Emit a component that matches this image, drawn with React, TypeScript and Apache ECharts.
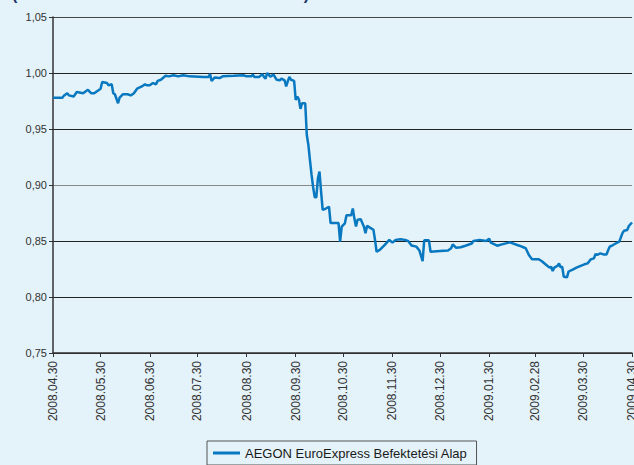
import React, { useEffect, useRef } from "react";
import * as echarts from "echarts";

const seriesName = "AEGON EuroExpress Befektetési Alap";
const startLabel = "2008.04.30";

const tickLabels = [
  "2008.04.30", "2008.05.30", "2008.06.30", "2008.07.30", "2008.08.30", "2008.09.30",
  "2008.10.30", "2008.11.30", "2008.12.30", "2009.01.30", "2009.02.28", "2009.03.30", "2009.04.30",
];

// days elapsed since 2008.04.30
const dayOffsets = [
  0, 6, 7, 9, 10, 13, 15, 19, 22, 24, 26, 28, 30, 31, 34, 35, 37, 38, 39, 41,
  42, 44, 47, 49, 51, 53, 56, 58, 59, 61, 63, 65, 66, 68, 71, 73, 76, 79, 82, 86,
  95, 98, 99, 100, 102, 105, 107, 114, 120, 122, 125, 126, 127, 130, 132, 133, 134, 135, 136, 137,
  139, 141, 143, 144, 146, 147, 148, 149, 150, 152, 153, 154, 155, 156, 157, 159, 160, 161, 162, 163,
  164, 165, 166, 167, 168, 169, 170, 172, 174, 175, 180, 181, 182, 184, 185, 188, 189, 190, 191, 192,
  194, 196, 197, 198, 200, 202, 203, 204, 206, 209, 212, 214, 216, 219, 222, 224, 226, 229, 231, 233,
  234, 237, 238, 244, 249, 251, 252, 254, 257, 260, 264, 265, 269, 273, 275, 276, 280, 283, 288, 294,
  298, 300, 302, 306, 308, 311, 313, 314, 315, 316, 318, 319, 320, 321, 322, 324, 325, 327, 330, 333,
  335, 337, 339, 341, 342, 343, 345, 347, 349, 350, 351, 353, 355, 357, 358, 359, 360, 362, 363, 365,
];

const navValues = [
  0.978, 0.978, 0.98, 0.982, 0.98, 0.979, 0.983, 0.982, 0.985, 0.982, 0.982, 0.984, 0.986, 0.992, 0.991, 0.989, 0.99, 0.982, 0.981, 0.973,
  0.978, 0.981, 0.981, 0.98, 0.982, 0.986, 0.988, 0.99, 0.989, 0.989, 0.991, 0.99, 0.993, 0.994, 0.9975, 0.997, 0.998, 0.997, 0.998, 0.997,
  0.9965, 0.9965, 0.999, 0.993, 0.996, 0.9955, 0.997, 0.9975, 0.998, 0.997, 0.997, 0.9985, 0.9965, 0.9965, 0.999, 0.9965, 0.995, 1.0, 0.9985, 0.9968,
  0.9985, 0.994, 0.9935, 0.995, 0.9935, 0.988, 0.9925, 0.9965, 0.994, 0.993, 0.976, 0.979, 0.9765, 0.968, 0.973, 0.973, 0.9446, 0.9357, 0.922, 0.909,
  0.898, 0.889, 0.889, 0.906, 0.912, 0.894, 0.8777, 0.879, 0.8806, 0.866, 0.866, 0.8494, 0.8628, 0.8658, 0.873, 0.873, 0.879, 0.87, 0.863, 0.869,
  0.8695, 0.8628, 0.857, 0.8637, 0.8617, 0.86, 0.851, 0.8404, 0.842, 0.8464, 0.851, 0.8485, 0.851, 0.8515, 0.851, 0.8498, 0.846, 0.845, 0.8415, 0.832,
  0.8506, 0.8506, 0.8404, 0.841, 0.8415, 0.8435, 0.847, 0.844, 0.8444, 0.8458, 0.8478, 0.85, 0.851, 0.85, 0.852, 0.8485, 0.8458, 0.847, 0.8488, 0.8458,
  0.8435, 0.8375, 0.8336, 0.8338, 0.8321, 0.8286, 0.8262, 0.827, 0.8232, 0.8262, 0.8277, 0.83, 0.8265, 0.827, 0.818, 0.8176, 0.8226, 0.8241, 0.8262, 0.828,
  0.8292, 0.83, 0.8336, 0.8345, 0.8384, 0.8375, 0.839, 0.838, 0.838, 0.842, 0.845, 0.8464, 0.848, 0.8494, 0.8533, 0.857, 0.8592, 0.8598, 0.8634, 0.8665,
];

const yMin = 0.75;
const yMax = 1.05;
const yStep = 0.05;

const DAY = 86400000;
function parseLabel(s: string): number {
  const [y, m, d] = s.split(".").map(Number);
  return Date.UTC(y, m - 1, d);
}

export default function App() {
  const ref = useRef<HTMLDivElement>(null);

  useEffect(() => {
    document.body.style.margin = "0";
    const chart = echarts.init(ref.current!, undefined, { renderer: "svg" });
    const t0 = parseLabel(startLabel);
    const tickDays = tickLabels.map((s) => Math.round((parseLabel(s) - t0) / DAY));
    const data = dayOffsets.map((d, i) => [d, navValues[i]]);
    const fmtX = (v: number) => {
      let best = 0;
      for (let i = 1; i < tickDays.length; i++) {
        if (Math.abs(tickDays[i] - v) < Math.abs(tickDays[best] - v)) best = i;
      }
      return tickLabels[best];
    };
    const font = "Liberation Sans";
    const lineColor = "#0878c0";

    chart.setOption({
      animation: false,
      backgroundColor: "#e4f2f9",
      textStyle: { fontFamily: font },
      graphic: [
        {
          type: "text",
          left: 12,
          top: -14,
          style: {
            text: "(2008. ÁPRILIS 30. – 2009. ÁPRILIS 30.)",
            font: "bold 16px Liberation Sans",
            fill: "#1b3468",
          },
        },
      ],
      grid: {
        left: 53,
        right: 2,
        top: 17,
        bottom: 112,
        containLabel: false,
        outerBoundsMode: "none",
      },
      legend: {
        left: 207,
        top: 441,
        orient: "horizontal",
        borderColor: "#555",
        borderWidth: 1,
        padding: [5, 9, 5, 6],
        itemWidth: 27,
        itemHeight: 3,
        itemGap: 5,
        textStyle: { fontSize: 13, color: "#1a1a1a", fontFamily: font, lineHeight: 14 },
        data: [{ name: seriesName, icon: "rect", itemStyle: { color: lineColor } }],
      },
      xAxis: {
        type: "value",
        min: tickDays[0],
        max: tickDays[tickDays.length - 1],
        axisLine: { show: true, onZero: false, lineStyle: { color: "#333", width: 1.5 } },
        axisTick: {
          show: true,
          length: 4,
          customValues: tickDays,
          lineStyle: { color: "#333" },
        },
        axisLabel: {
          show: true,
          customValues: tickDays,
          rotate: 90,
          margin: 8,
          fontSize: 12,
          color: "#333",
          fontFamily: font,
          formatter: (v: number) => fmtX(v),
        },
        splitLine: { show: false },
      },
      yAxis: {
        type: "value",
        min: yMin,
        max: yMax,
        interval: yStep,
        axisLine: { show: true, lineStyle: { color: "#333", width: 1.5 } },
        axisTick: { show: true, length: 4, lineStyle: { color: "#333" } },
        axisLabel: {
          margin: 6,
          fontSize: 11,
          color: "#333",
          fontFamily: font,
          formatter: (v: number) => v.toFixed(2).replace(".", ","),
        },
        splitLine: {
          show: true,
          lineStyle: {
            color: ["#222", "#222", "#222", "#888", "#222", "#222", "#444"],
            width: 1,
          },
        },
      },
      series: [
        {
          name: seriesName,
          type: "line",
          data,
          symbol: "none",
          showSymbol: false,
          lineStyle: { color: lineColor, width: 2.5 },
          itemStyle: { color: lineColor },
        },
      ],
    });
    return () => chart.dispose();
  }, []);

  return (
    <div
      ref={ref}
      style={{ position: "fixed", left: 0, top: 0, width: 634, height: 465 }}
    />
  );
}
